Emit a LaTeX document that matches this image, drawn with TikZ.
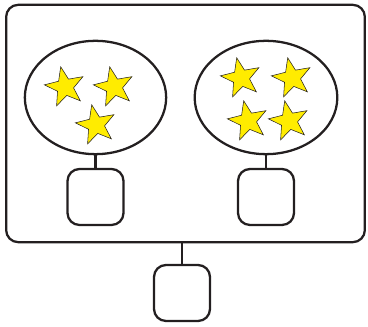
\documentclass[tikz,border=0pt]{standalone}
\usepackage{tikz}
\usetikzlibrary{shapes.geometric, positioning, calc}
\definecolor{staryellow}{RGB}{255, 236, 0}
\definecolor{inkgray}{RGB}{35, 31, 32}

\tikzset{
    groupblob/.style={ellipse, draw=inkgray, line width=1.7pt, inner sep=0pt},
    slotbox/.style={rectangle, draw=inkgray, line width=1.7pt, rounded corners=9pt,
        minimum width=42pt, minimum height=42pt, inner sep=0pt},
    yellowstar/.style={star, star points=5, star point ratio=2.4, fill=staryellow,
        draw=inkgray, line width=0.4pt, minimum size=31pt, inner sep=0pt, rotate=12},
    link/.style={draw=inkgray, line width=1.7pt}
}

\begin{document}
\begin{tikzpicture}[x=0.75pt, y=-0.75pt]
        \useasboundingbox (0,0) rectangle (368,327);

        % Outer frame
        \node[rectangle, draw=inkgray, line width=1.7pt, rounded corners=9pt,
            minimum width=269pt, minimum height=178pt, inner sep=0pt] (frame) at (185.5, 123.5) {};

        % Groups (Left and Right)
        \node[groupblob, minimum width=106pt, minimum height=85pt] (gl) at (95.5, 97.5) {};
        \node[groupblob, minimum width=107pt, minimum height=85pt] (gr) at (266, 97.5) {};

        % Stars in left group
        \node[yellowstar] (l1) at (65, 87) {};
        \node[yellowstar] (l2) at (114, 87) {};
        \node[yellowstar] (l3) at (96, 125) {};

        % Stars in right group
        \node[yellowstar] (r1) at (241, 78) {};
        \node[yellowstar] (r2) at (292, 78) {};
        \node[yellowstar] (r3) at (248, 121) {};
        \node[yellowstar] (r4) at (289, 121) {};

        % Slots
        \node[slotbox] (sl) at (95.5, 197) {};
        \node[slotbox] (sr) at (266, 197) {};
        \node[slotbox] (sb) at (182, 293) {};

        % Links
        \draw[link] (gl.south) -- (sl.north);
        \draw[link] (gr.south) -- (sr.north);
        \draw[link] (sb.north) -- (sb.north |- frame.south);

    \end{tikzpicture}
\end{document}
